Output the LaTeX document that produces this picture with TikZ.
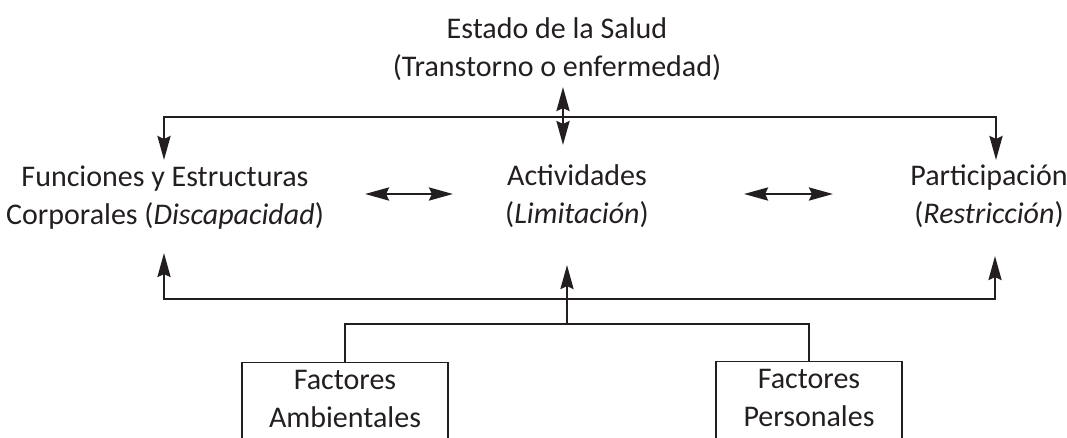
\documentclass[tikz,border=0pt]{standalone}
\usepackage{fontspec}
\setmainfont{Carlito}
\usetikzlibrary{arrows.meta}
\definecolor{ink}{RGB}{35,31,32}
\tikzset{
  lbl/.style={font=\fontsize{30}{38}\selectfont, text=ink, align=center, inner sep=0pt},
  factor/.style={lbl, draw=ink, line width=1.2pt, anchor=north, inner xsep=0pt, inner ysep=8pt, text depth=20pt},
  link/.style={draw=ink, line width=2.8pt},
}
\begin{document}
\begin{tikzpicture}[x=1pt,y=1pt,>={Stealth[length=24pt,width=13pt,inset=3pt]}]
  \clip (0,0) rectangle (1067,-437);
  \node[lbl] (salud) at (557,-49) {Estado de la Salud\\(Transtorno o enfermedad)};
  \node[lbl] (funciones) at (165,-198) {Funciones y Estructuras\\Corporales (\textit{Discapacidad})};
  \node[lbl] (actividades) at (577,-196) {Actividades\\(\textit{Limitación})};
  \node[lbl] (participacion) at (989,-196) {Participación\\(\textit{Restricción})};
  \node[factor, minimum width=206] (ambiental) at (345,-362) {Factores\\Ambientales};
  \node[factor, minimum width=186] (personal) at (809,-361) {Factores\\Personales};
  % ends of the arrows
  \coordinate (saludup)   at (563,-87);
  \coordinate (saluddown) at (563,-145);
  \coordinate (ftop) at (164,-160);
  \coordinate (ptop) at (996,-160);
  \coordinate (fbot) at (164,-253);
  \coordinate (pbot) at (995,-256);
  \coordinate (abot) at (567,-265);
  \coordinate (fork) at (567,-324);
  \coordinate (fa) at (365,-194);
  \coordinate (af) at (453,-194);
  \coordinate (ap) at (744,-194);
  \coordinate (pa) at (833,-194);
  \draw[link,<->] (saludup) -- (saluddown);
  \draw[link,<->] (ftop) -- ++(0,43) -| (ptop);
  \draw[link,<->] (fbot) -- ++(0,-46) -| (pbot);
  \draw[link,<->] (fa) -- (af);
  \draw[link,<->] (ap) -- (pa);
  \draw[link] (ambiental.north) -- ++(0,38) -| (personal.north);
  \draw[link,->] (fork) -- (abot);
\end{tikzpicture}
\end{document}
